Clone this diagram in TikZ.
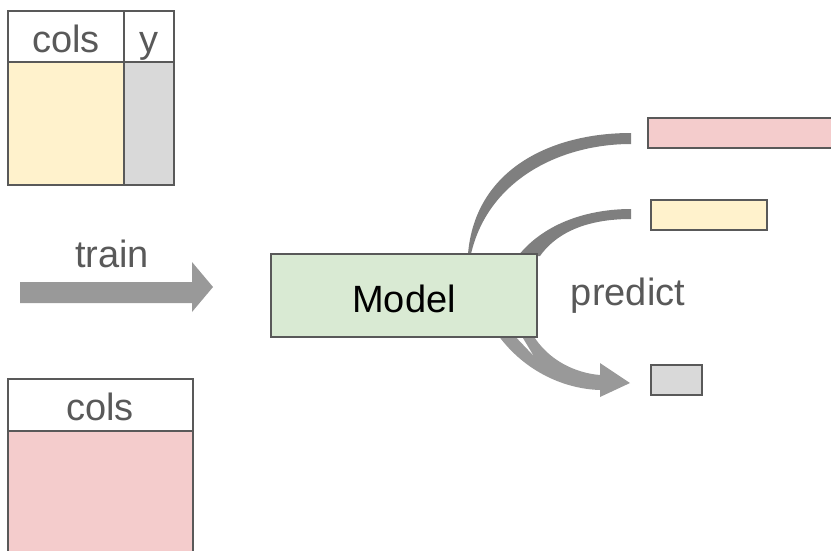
\documentclass[tikz,border=0pt]{standalone}
\usepackage{fontspec}
\setmainfont{Liberation Sans}
\begin{document}
\begin{tikzpicture}[x=1pt,y=-1pt,
  cell/.style={draw=edgegray,line width=2pt},
  lbl/.style={text=labelgray,font=\fontsize{38}{42}\selectfont,inner sep=0pt,anchor=base},
  flow/.style={fill=flowgray,draw=none},
  dark/.style={fill=curvegray,draw=none}]
\definecolor{edgegray}{HTML}{595959}
\definecolor{labelgray}{HTML}{595959}
\definecolor{flowgray}{HTML}{999999}
\definecolor{curvegray}{HTML}{7F7F7F}
\definecolor{paleyellow}{HTML}{FFF2CC}
\definecolor{palepink}{HTML}{F4CCCC}
\definecolor{palegray}{HTML}{D9D9D9}
\definecolor{palegreen}{HTML}{D9EAD3}
\useasboundingbox (0,0) rectangle (831,550);
\clip (0,0) rectangle (831,550);

% training table: features and target
\draw[cell,fill=paleyellow] (8,62) rectangle (124,185);
\draw[cell,fill=palegray] (124,62) rectangle (174,185);
\draw[cell,fill=white] (8,11) rectangle (124,62);
\draw[cell,fill=white] (124,11) rectangle (174,62);
\node[lbl] (tcols) at (66,52) {cols};
\node[lbl] (ty) at (149,52) {y};

% table to predict on
\draw[cell,fill=palepink] (8,431) rectangle (193,560);
\draw[cell,fill=white] (8,379) rectangle (193,431);
\node[lbl] (pcols) at (100,420) {cols};

% train arrow
\coordinate (ta) at (20,292);
\coordinate (tb) at (213,287);
\fill[flowgray] (ta |- 0,282) -- (192,282) -- (192,262) -- (tb) -- (192,312) -- (192,303) -- (ta |- 0,303) -- cycle;
\node[lbl] (train) at (112,267) {train};

% outputs of the model
\fill[dark] (468,254) .. controls (475,170) and (550,133) .. (631,133)
  -- (631,144) .. controls (560,144) and (488,180) .. (471,254) -- cycle;
\fill[dark] (518,256) .. controls (545,222) and (590,209) .. (631,209)
  -- (631,219) .. controls (595,219) and (560,228) .. (540,256) -- cycle;
\fill[flow] (498,335) .. controls (525,372) and (565,389) .. (600,390)
  -- (600,397) -- (630,383) -- (600,363) -- (600,375)
  .. controls (575,373) and (548,360) .. (533,335) -- cycle;
\fill[white] (514,335) -- (521,335) -- (533,355) -- cycle;

% the model
\node[draw=edgegray,line width=2pt,fill=palegreen,minimum width=266pt,minimum height=83pt,inner sep=0pt] (model) at (404,295.5) {};
\node[lbl,text=black] (mtext) at (404,312) {Model};
\node[lbl] (predict) at (628,305) {predict};

% predictions
\draw[cell,fill=palepink] (648,118) rectangle (840,148);
\draw[cell,fill=paleyellow] (651,200) rectangle (767,230);
\draw[cell,fill=palegray] (651,365) rectangle (702,395);
\end{tikzpicture}
\end{document}
